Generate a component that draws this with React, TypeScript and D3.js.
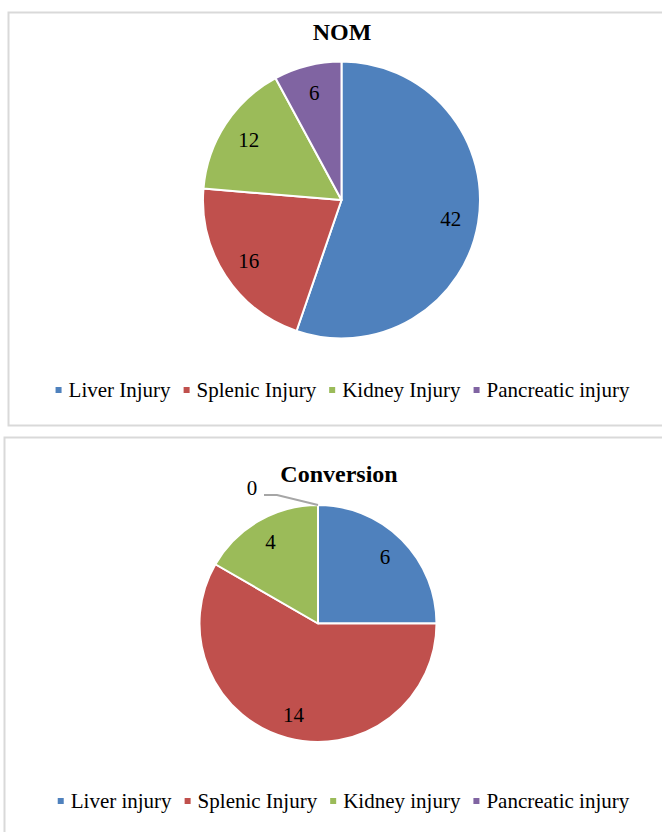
import React, { useEffect, useRef } from 'react';
import * as d3 from 'd3';

const colors = ['#4F81BD', '#C0504D', '#9BBB59', '#8064A2'];

const nomLabels = ['Liver Injury', 'Splenic Injury', 'Kidney Injury', 'Pancreatic injury'];
const nomValues = [42, 16, 12, 6];

const convLabels = ['Liver injury', 'Splenic Injury', 'Kidney injury', 'Pancreatic injury'];
const convValues = [6, 14, 4, 0];

const FONT = "'Liberation Serif', 'Times New Roman', serif";

const charts = [
  { title: 'NOM', labels: nomLabels, values: nomValues, box: [8.5, 12.5], boxH: 413,
    cx: 341.5, cy: 200, r: 138.5, titleX: 342, titleY: 40, legendY: 390, legendX: 342.5 },
  { title: 'Conversion', labels: convLabels, values: convValues, box: [4.5, 437.5], boxH: 420,
    cx: 318, cy: 623.5, r: 118.5, titleX: 339, titleY: 482, legendY: 801, legendX: 343.5 },
];

const App = () => {
  const svgRef = useRef<SVGSVGElement>(null);

  useEffect(() => {
    const svg = d3.select(svgRef.current);
    svg.selectAll('*').remove();

    charts.forEach(c => {
      const g = svg.append('g');

      // chart frame
      g.append('rect')
        .attr('x', c.box[0])
        .attr('y', c.box[1])
        .attr('width', 700)
        .attr('height', c.boxH)
        .attr('fill', 'white')
        .attr('stroke', '#d9d9d9')
        .attr('stroke-width', 2);

      g.append('text')
        .attr('x', c.titleX)
        .attr('y', c.titleY)
        .attr('text-anchor', 'middle')
        .style('font-family', FONT)
        .style('font-weight', 'bold')
        .style('font-size', '24px')
        .text(c.title);

      const pie = d3.pie<number>().sort(null).value(d => d);
      const arcs = pie(c.values);
      const arc = d3.arc<d3.PieArcDatum<number>>().innerRadius(0).outerRadius(c.r);
      const labelArc = d3.arc<d3.PieArcDatum<number>>().innerRadius(c.r * 0.8).outerRadius(c.r * 0.8);

      const pg = g.append('g').attr('transform', `translate(${c.cx},${c.cy})`);

      pg.selectAll('path')
        .data(arcs.filter(d => d.value > 0))
        .enter()
        .append('path')
        .attr('d', arc)
        .attr('fill', d => colors[d.index])
        .attr('stroke', 'white')
        .attr('stroke-width', 2)
        .attr('stroke-linejoin', 'round');

      pg.selectAll('.lbl')
        .data(arcs.filter(d => d.value > 0))
        .enter()
        .append('text')
        .classed('lbl', true)
        .attr('x', d => labelArc.centroid(d)[0])
        .attr('y', d => labelArc.centroid(d)[1])
        .attr('dy', '0.35em')
        .attr('text-anchor', 'middle')
        .style('font-family', FONT)
        .style('font-size', '21px')
        .text(d => d.value);

      // zero slices get a leader line outside the pie
      arcs.filter(d => d.value === 0).forEach(d => {
        const a = (d.startAngle + d.endAngle) / 2;
        const px = Math.sin(a) * c.r;
        const py = -Math.cos(a) * c.r;
        pg.append('path')
          .attr('d', `M${px},${py}L${px - 41},${py - 10}L${px - 54},${py - 10}`)
          .attr('fill', 'none')
          .attr('stroke', '#a6a6a6')
          .attr('stroke-width', 2);
        pg.append('text')
          .attr('x', px - 66)
          .attr('y', py - 17)
          .attr('dy', '0.35em')
          .attr('text-anchor', 'middle')
          .style('font-family', FONT)
          .style('font-size', '21px')
          .text(d.value);
      });

      // legend
      const lg = g.append('g');
      const items = lg.selectAll('.item')
        .data(c.labels)
        .enter()
        .append('g')
        .classed('item', true);
      items.append('rect')
        .attr('width', 6)
        .attr('height', 6)
        .attr('y', c.legendY - 3)
        .attr('fill', (d, i) => colors[i]);
      const texts = items.append('text')
        .attr('x', 13)
        .attr('y', c.legendY + 7)
        .style('font-family', FONT)
        .style('font-size', '21px')
        .text(d => d);
      const widths: number[] = [];
      texts.each(function () { widths.push((this as SVGTextElement).getComputedTextLength()); });
      const gap = 13;
      const total = widths.reduce((s, w) => s + 13 + w, 0) + gap * (widths.length - 1);
      let x = c.legendX - total / 2;
      items.attr('transform', (d, i) => {
        const t = `translate(${x},0)`;
        x += 13 + widths[i] + gap;
        return t;
      });
    });
  }, []);

  return (
    <svg ref={svgRef} width={662} height={832}
      style={{ position: 'absolute', left: 0, top: 0, background: 'white' }} />
  );
};

export default App;
